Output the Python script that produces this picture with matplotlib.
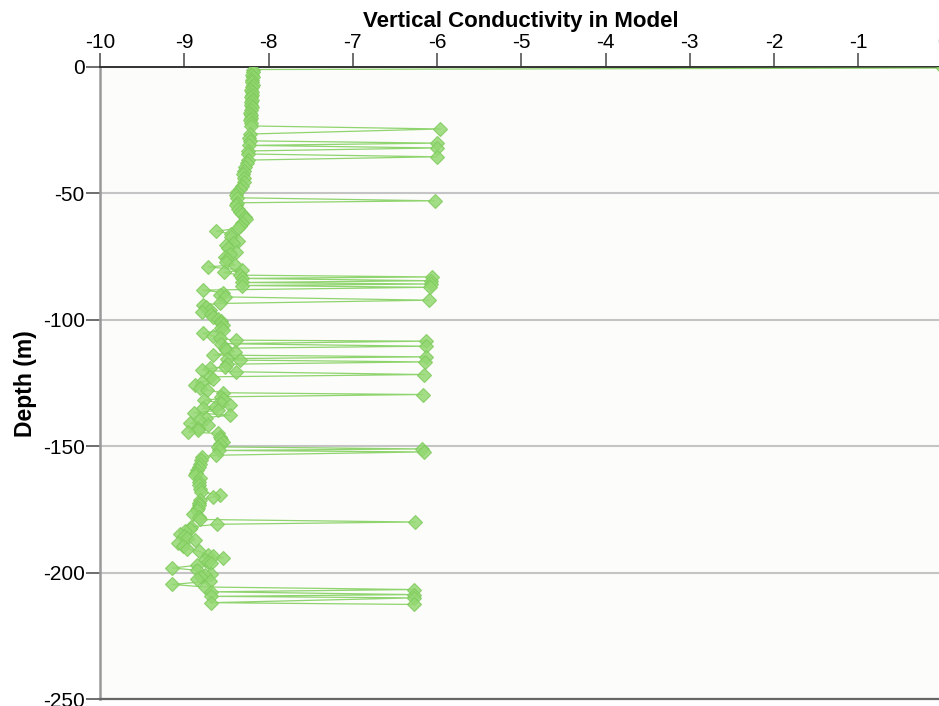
import matplotlib.pyplot as plt

plt.rcParams['font.family'] = ['Liberation Sans', 'DejaVu Sans']
plt.rcParams['axes.unicode_minus'] = False

# depth (m) and log conductivity
depth = [-0.4, -1.0, -2, -3, -4, -5, -6, -7, -8, -9, -10, -11, -12, -13, -14, -15,
         -16, -17, -18, -19, -20, -21, -22, -23.3, -24.5, -26.5, -27.9, -29.2, -30.1,
         -31.0, -32.0, -33.2, -34.4, -35.5, -36.8, -38, -39.5, -41, -42.5, -44, -45.5,
         -47, -48.3, -49.3, -50.6, -51.7, -52.9, -53.7, -54.6, -56, -57.2, -58.2, -59.2,
         -60.1, -61.5, -63.0, -63.8, -64.9, -66, -67.1, -68.8, -69.6, -70.4, -71.7,
         -73.1, -74.0, -75.0, -76.0, -77.0, -78.3, -79.0, -80.3, -81.2, -82.3, -83.0,
         -83.6, -84.5, -85.2, -85.8, -86.4, -87.1, -88.2, -89.2, -90.2, -90.9, -92.2,
         -93.5, -94.1, -95.0, -96.1, -96.8, -97.8, -98.8, -99.6, -100.5, -101.3, -102.1,
         -103, -104.0, -105.3, -106.3, -107.3, -108.0, -108.4, -109.4, -110.4, -111.2,
         -111.9, -112.6, -113.9, -114.6, -115.3, -115.9, -116.6, -117.5, -118.5, -119.2,
         -119.9, -120.5, -121.6, -122.5, -123.5, -124.5, -125.8, -126.8, -127.8, -128.8,
         -129.5, -130.4, -131.1, -131.7, -133.0, -133.7, -134.3, -135.0, -135.7, -136.7,
         -137.7, -138.6, -139.6, -140.9, -141.6, -142.6, -143.6, -144.3, -144.9, -146.2,
         -147.2, -148.2, -149.2, -150.2, -151.0, -151.6, -152.2, -153.5, -154.1, -155.5,
         -156.8, -158, -159.4, -160.5, -161.4, -162.7, -164, -165.3, -166.7, -168, -169.3,
         -170.0, -171.3, -172.3, -173.3, -174.3, -175.2, -176.8, -177.9, -178.9, -179.9,
         -180.8, -181.8, -182.5, -183.5, -184.5, -185.5, -186.4, -187.0, -188.4, -189.4,
         -190.4, -191.5, -192.8, -193.5, -194.0, -194.8, -195.6, -196.3, -197.0, -198.1,
         -199.0, -200.3, -200.9, -201.6, -202.3, -203.3, -204.6, -205.6, -206.6, -207.5,
         -208.6, -209.3, -209.9, -211.8, -212.5]
conductivity = [0.0, -8.19, -8.19, -8.20, -8.19, -8.20, -8.20, -8.19, -8.20, -8.21, -8.20,
                -8.20, -8.21, -8.20, -8.21, -8.21, -8.20, -8.21, -8.22, -8.21, -8.21, -8.22,
                -8.21, -8.21, -5.96, -8.22, -8.23, -8.22, -6.0, -8.23, -6.0, -8.24, -8.24,
                -6.0, -8.24, -8.26, -8.28, -8.29, -8.30, -8.29, -8.29, -8.31, -8.34, -8.37,
                -8.39, -8.37, -6.03, -8.37, -8.38, -8.36, -8.34, -8.32, -8.28, -8.27, -8.31,
                -8.34, -8.36, -8.62, -8.44, -8.44, -8.36, -8.42, -8.50, -8.48, -8.38, -8.46,
                -8.52, -8.49, -8.50, -8.40, -8.72, -8.32, -8.53, -8.34, -6.06, -8.32, -6.07,
                -8.32, -6.07, -8.31, -6.08, -8.78, -8.54, -8.58, -8.52, -6.09, -8.58, -8.78,
                -8.74, -8.70, -8.79, -8.68, -8.66, -8.60, -8.56, -8.56, -8.54, -8.56, -8.54,
                -8.78, -8.66, -8.58, -8.39, -6.13, -8.56, -6.13, -8.52, -8.50, -8.40, -8.66,
                -6.13, -8.49, -8.34, -6.14, -8.49, -8.52, -8.69, -8.79, -8.39, -6.15, -8.70,
                -8.66, -8.79, -8.87, -8.81, -8.73, -8.54, -6.17, -8.56, -8.54, -8.76, -8.56,
                -8.46, -8.64, -8.78, -8.60, -8.89, -8.46, -8.74, -8.82, -8.93, -8.72, -8.84,
                -8.84, -8.95, -8.60, -8.58, -8.56, -8.54, -8.57, -8.60, -6.18, -8.59, -6.16,
                -8.62, -8.79, -8.80, -8.81, -8.83, -8.85, -8.86, -8.87, -8.81, -8.83, -8.83,
                -8.81, -8.80, -8.58, -8.66, -8.81, -8.82, -8.83, -8.84, -8.85, -8.90, -8.82,
                -8.81, -6.26, -8.61, -8.92, -8.93, -8.99, -9.05, -9.00, -8.97, -8.87, -9.07,
                -9.01, -8.97, -8.83, -8.72, -8.66, -8.54, -8.75, -8.72, -8.68, -8.85, -9.14,
                -8.85, -8.68, -8.75, -8.80, -8.85, -8.70, -9.14, -8.75, -6.27, -8.68, -6.27,
                -8.68, -6.27, -8.68, -6.27]

x_ticks = [-10, -9, -8, -7, -6, -5, -4, -3, -2, -1, 0]
y_ticks = [0, -50, -100, -150, -200, -250]

fig = plt.figure(figsize=(9.39, 7.06), dpi=100)
ax = fig.add_axes([0.1065, 0.0095, 0.8973, 0.8956])
ax.set_facecolor('#fcfcfa')

ax.plot(conductivity, depth, color='#7ccd55', lw=0.9, alpha=0.85,
        marker='D', ms=7.5, mfc='#94d872', mec='#7fcb5c', mew=0.8, zorder=3)

ax.set_xlim(-10, 0)
ax.set_ylim(-250, 0)
ax.xaxis.tick_top()
ax.xaxis.set_label_position('top')
ax.set_xticks(x_ticks)
ax.set_yticks(y_ticks)
ax.set_xlabel('Vertical Conductivity in Model', fontsize=16, fontweight='bold', labelpad=4)
ax.set_ylabel('Depth (m)', fontsize=16.5, fontweight='bold', labelpad=4)
ax.tick_params(axis='both', labelsize=15, length=10, width=1.2, color='#555555', pad=1)

ax.grid(True, axis='y', color='#c4c4c4', lw=1.5)
ax.spines['right'].set_visible(False)
ax.spines['top'].set_color('#333333')
ax.spines['top'].set_linewidth(1.4)
ax.spines['left'].set_color('#999999')
ax.spines['left'].set_linewidth(1.8)
ax.spines['bottom'].set_color('#666666')
ax.spines['bottom'].set_linewidth(1.6)

plt.savefig('out.png', dpi=100)
